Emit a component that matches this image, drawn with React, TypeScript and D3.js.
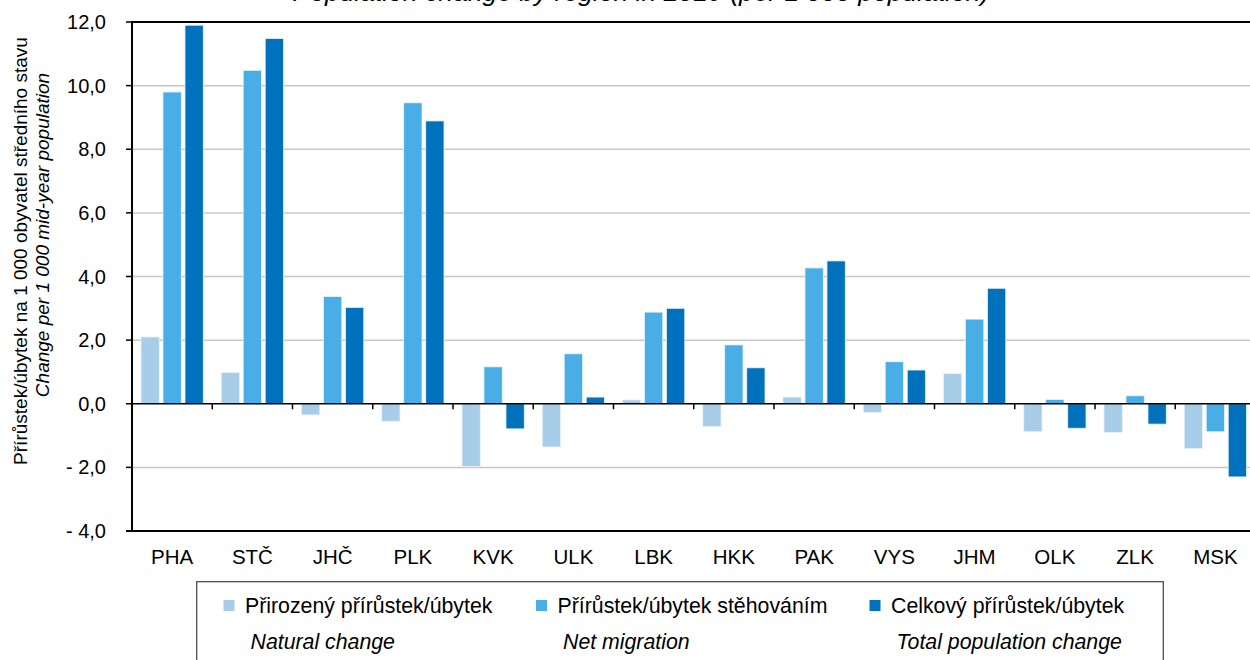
import React from "react";
import * as d3 from "d3";

const regions = ["PHA", "STČ", "JHČ", "PLK", "KVK", "ULK", "LBK", "HKK", "PAK", "VYS", "JHM", "OLK", "ZLK", "MSK"];
const naturalChange = [2.1, 0.98, -0.35, -0.55, -1.97, -1.36, 0.12, -0.72, 0.21, -0.27, 0.95, -0.88, -0.9, -1.41];
const netMigration = [9.8, 10.48, 3.37, 9.46, 1.16, 1.57, 2.88, 1.85, 4.27, 1.32, 2.66, 0.13, 0.25, -0.88];
const totalChange = [11.9, 11.48, 3.03, 8.89, -0.79, 0.21, 3.0, 1.13, 4.49, 1.06, 3.63, -0.77, -0.64, -2.3];
const seriesKeys = ["natural", "migration", "total"];
const seriesNamesCz = ["Přirozený přírůstek/úbytek", "Přírůstek/úbytek stěhováním", "Celkový přírůstek/úbytek"];
const seriesNamesEn = ["Natural change", "Net migration", "Total population change"];
const seriesColors = ["#a8cde9", "#49aee6", "#0072bd"];
const yTicks = [-4, -2, 0, 2, 4, 6, 8, 10, 12];
const titleText = "Population change by region in 2019 (per 1 000 population)";
const yTitleCz = "Přírůstek/úbytek na 1 000 obyvatel středního stavu";
const yTitleEn = "Change per 1 000 mid-year population";

const FONT = "'Liberation Sans', Arial, Helvetica, sans-serif";

export default function App() {
  const W = 1250, H = 660;
  const left = 132, right = 1255.5, top = 22, bottom = 531;
  const data = [naturalChange, netMigration, totalChange];
  const y = d3.scaleLinear().domain([-4, 12]).range([bottom, top]);
  const x0 = d3.scaleBand<string>().domain(regions).range([left, right]).padding(0);
  const x1 = d3.scaleBand<string>().domain(seriesKeys).range([8.97, 71.27]).paddingInner(0.168).paddingOuter(0);
  const fmt = (v: number) => (v < 0 ? "- " + Math.abs(v).toFixed(1) : v.toFixed(1)).replace(".", ",");
  const legendX = [223.5, 536, 869.5];

  return (
    <svg width={W} height={H} style={{ position: "absolute", left: 0, top: 0, background: "#fff" }} fontFamily={FONT}>
      <rect x={0} y={0} width={W} height={H} fill="#fff" />
      <text x={641} y={1} textAnchor="middle" fontSize={26.5} fontStyle="italic" fill="#000">{titleText}</text>
      {/* gridlines */}
      {yTicks.filter(t => t !== -4 && t !== 12 && t !== 0).map(t => (
        <line key={t} x1={left} x2={W} y1={y(t)} y2={y(t)} stroke="#c8c8c8" strokeWidth={1.5} />
      ))}
      {/* bars */}
      {data.map((vals, si) => vals.map((v, i) => {
        const bx = (x0(regions[i]) as number) + (x1(seriesKeys[si]) as number);
        const y0 = y(0), yv = y(v);
        return (
          <rect key={si + "-" + i} x={bx} y={Math.min(y0, yv)} width={x1.bandwidth()} height={Math.abs(yv - y0)}
            fill={seriesColors[si]} stroke="#e8f3fb" strokeWidth={0.8} />
        );
      }))}
      {/* top and bottom border */}
      <line x1={left} x2={W} y1={top} y2={top} stroke="#000" strokeWidth={2} />
      <line x1={left - 6} x2={W} y1={bottom} y2={bottom} stroke="#000" strokeWidth={2} />
      {/* zero axis */}
      <line x1={left} x2={W} y1={y(0)} y2={y(0)} stroke="#000" strokeWidth={1.6} />
      {regions.slice(1).map(r => (
        <line key={r} x1={x0(r) as number} x2={x0(r) as number} y1={y(0)} y2={y(0) + 5.5} stroke="#000" strokeWidth={1.5} />
      ))}
      {/* y axis */}
      <line x1={left} x2={left} y1={top - 1} y2={bottom + 1} stroke="#000" strokeWidth={2} />
      {yTicks.map(t => (
        <g key={t}>
          <line x1={left - 6} x2={left} y1={y(t)} y2={y(t)} stroke="#000" strokeWidth={1.5} />
          <text x={106} y={y(t) + 7} textAnchor="end" fontSize={20} fill="#000">{fmt(t)}</text>
        </g>
      ))}
      {/* x labels */}
      {regions.map(r => (
        <text key={r} x={(x0(r) as number) + x0.bandwidth() / 2} y={564} textAnchor="middle" fontSize={20.5} fill="#000">{r}</text>
      ))}
      {/* y title */}
      <text transform="translate(27,251) rotate(-90)" textAnchor="middle" fontSize={19} fill="#000">{yTitleCz}</text>
      <text transform="translate(49,235) rotate(-90)" textAnchor="middle" fontSize={19} fontStyle="italic" fill="#000">{yTitleEn}</text>
      {/* legend */}
      <rect x={196.7} y={581.7} width={966.6} height={100} fill="none" stroke="#404040" strokeWidth={1.2} />
      {seriesKeys.map((k, i) => (
        <g key={k}>
          <rect x={legendX[i]} y={600} width={11} height={11} fill={seriesColors[i]} />
          <text x={legendX[i] + 21.5} y={613} fontSize={21.3} fill="#000">{seriesNamesCz[i]}</text>
          <text x={legendX[i] + 27} y={648.5} fontSize={21.3} fontStyle="italic" fill="#000">{seriesNamesEn[i]}</text>
        </g>
      ))}
    </svg>
  );
}
